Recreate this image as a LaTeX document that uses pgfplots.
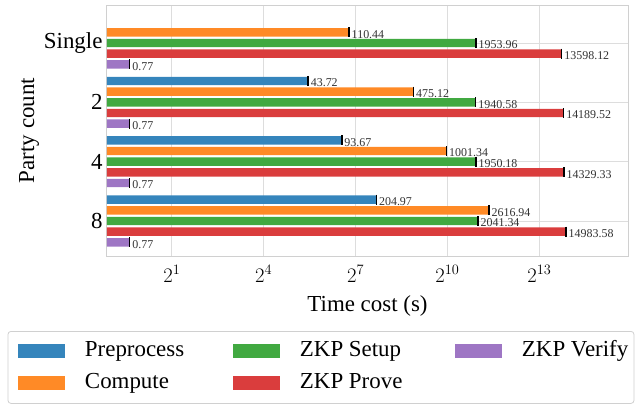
\documentclass[border=0pt]{standalone}
\usepackage{pgfplots}
\pgfplotsset{compat=1.18}
\usepackage{fontspec}
\setmainfont{Liberation Serif}
\definecolor{cPre}{HTML}{3585BC}
\definecolor{cCom}{HTML}{FF8A26}
\definecolor{cSet}{HTML}{41A941}
\definecolor{cPro}{HTML}{DA3D3D}
\definecolor{cVer}{HTML}{9E76C4}
\definecolor{gridc}{HTML}{DDDDDD}
\definecolor{framec}{HTML}{D0D0D0}
\begin{document}
\begin{tikzpicture}
\begin{axis}[
  scale only axis, width=521bp, height=251bp,
  xmode=log, log basis x=2, log origin x=infty,
  xmin=0.461, xmax=61000,
  ymin=-0.641, ymax=3.59, y dir=reverse,
  ytick={0,1,2,3}, yticklabels={Single,2,4,8},
  xtick={2,16,128,1024,8192},
  minor x tick num=0, xminorticks=false, xminorgrids=false,
  major tick length=0pt,
  grid=major, grid style={gridc, line width=0.8bp},
  axis line style={framec, line width=1bp},
  xbar, bar width=0.142,
  yticklabel style={font=\fontsize{23}{27}\selectfont, xshift=-1bp},
  xticklabel style={font=\fontsize{20}{24}\selectfont, yshift=-6bp},
  xlabel={Time cost (s)}, ylabel={Party count},
  label style={font=\fontsize{23}{27}\selectfont},
  xlabel style={yshift=-6bp},
  ylabel style={yshift=-2bp},
  point meta=explicit symbolic,
  nodes near coords,
  nodes near coords style={anchor=west, font=\fontsize{12}{14}\selectfont, text=black!80, xshift=1bp, yshift=-2bp, inner sep=1.5bp},
  every axis plot/.append style={draw=none},
  error bars/x dir=plus, error bars/x fixed=0,
  error bars/error mark=-,
  error bars/error mark options={black, line width=1.6bp, mark size=5bp},
  legend columns=3,
  legend cell align=left,
  legend image code/.code={\fill[#1, sharp corners] (0bp,-7bp) rectangle (47bp,7bp);},
  legend style={at={(0.4107,-0.2988)}, anchor=north, draw=framec, line width=0.8bp, rounded corners=3bp, fill=white,
    font=\fontsize{23}{27}\selectfont, inner sep=10bp, row sep=12bp,
    nodes={inner sep=0pt, text height=15bp, text depth=5bp},
    /tikz/every odd column/.append style={column sep=20bp}},
]
\addplot+[fill=cPre, bar shift=-0.36] coordinates {(43.72,1) [43.72] (93.67,2) [93.67] (204.97,3) [204.97]};
\addlegendentry{\makebox[148bp][l]{Preprocess}}
\addplot+[fill=cSet, bar shift=0] coordinates {(1953.96,0) [1953.96] (1940.58,1) [1940.58] (1950.18,2) [1950.18] (2041.34,3) [2041.34]};
\addlegendentry{\makebox[155bp][l]{ZKP Setup}}
\addplot+[fill=cVer, bar shift=0.36] coordinates {(0.77,0) [0.77] (0.77,1) [0.77] (0.77,2) [0.77] (0.77,3) [0.77]};
\addlegendentry{\makebox[102bp][l]{ZKP Verify}}
\addplot+[fill=cCom, bar shift=-0.18] coordinates {(110.44,0) [110.44] (475.12,1) [475.12] (1001.34,2) [1001.34] (2616.94,3) [2616.94]};
\addlegendentry{\makebox[148bp][l]{Compute}}
\addplot+[fill=cPro, bar shift=0.18] coordinates {(13598.12,0) [13598.12] (14189.52,1) [14189.52] (14329.33,2) [14329.33] (14983.58,3) [14983.58]};
\addlegendentry{\makebox[155bp][l]{ZKP Prove}}
\end{axis}
\pgfresetboundingbox
\useasboundingbox (-107bp,-150bp) rectangle (535bp,256bp);
\end{tikzpicture}
\end{document}
